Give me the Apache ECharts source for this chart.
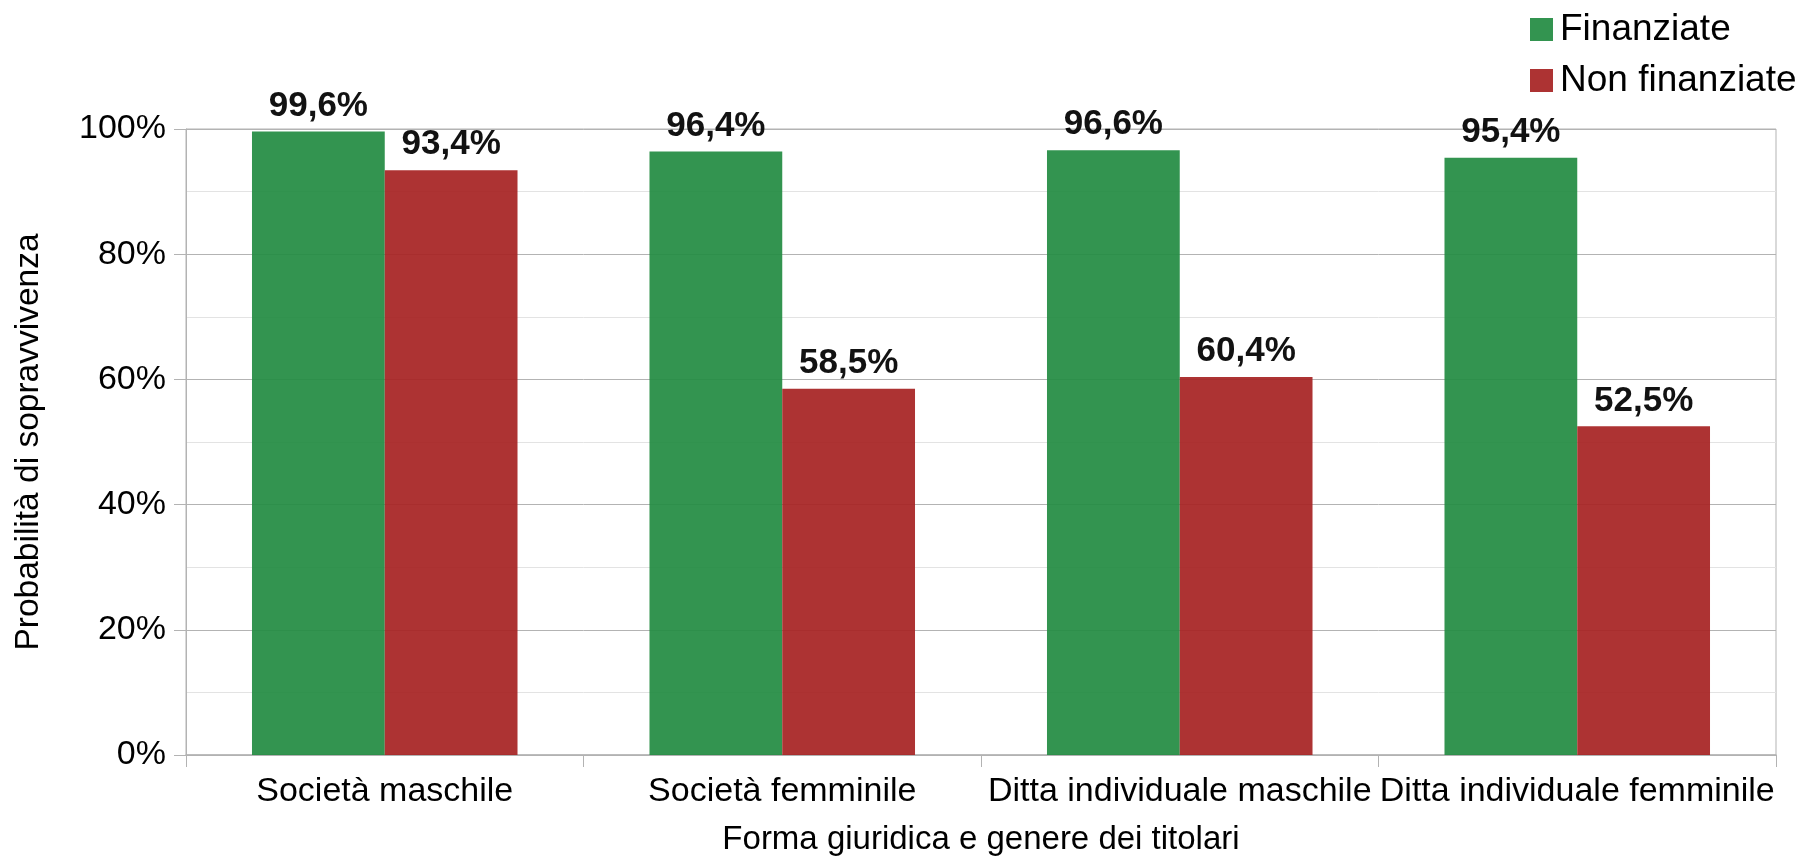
<!DOCTYPE html>
<html>
<head>
<meta charset="utf-8">
<script src="https://cdn.jsdelivr.net/npm/echarts@6/dist/echarts.min.js"></script>
<style>
html,body{margin:0;padding:0;background:#fff;}
#chart{width:1807px;height:861px;}
</style>
</head>
<body>
<div id="chart"></div>
<script>
var categories = ['Società maschile', 'Società femminile', 'Ditta individuale maschile', 'Ditta individuale femminile'];
var seriesNames = ['Finanziate', 'Non finanziate'];
var finanziate = [99.6, 96.4, 96.6, 95.4];
var nonFinanziate = [93.4, 58.5, 60.4, 52.5];
var yTicks = [0, 20, 40, 60, 80, 100];

var FONT = 'Liberation Sans';
var chart = echarts.init(document.getElementById('chart'), null, {renderer: 'canvas'});

function fmt(p) { return p.value.toFixed(1).replace('.', ',') + '%'; }

var labelCfg = {
  show: true, position: 'top', distance: 8, formatter: fmt,
  color: '#000', fontFamily: FONT, fontWeight: 'bold', fontSize: 35
};

chart.setOption({
  animation: false,
  backgroundColor: '#fff',
  textStyle: {fontFamily: FONT},
  legend: {
    orient: 'vertical', left: 1525, top: 6,
    itemWidth: 23, itemHeight: 23, itemGap: 14,
    icon: 'rect',
    textStyle: {fontFamily: FONT, fontSize: 37, color: '#000', padding: [0, 0, 0, 2]},
    data: seriesNames
  },
  grid: {
    left: 186, right: 31, top: 129, bottom: 100,
    show: true, borderColor: '#b3b3b3', borderWidth: 1
  },
  xAxis: {
    type: 'category', data: categories,
    name: 'Forma giuridica e genere dei titolari',
    nameLocation: 'middle', nameGap: 68,
    nameTextStyle: {fontFamily: FONT, fontSize: 33, color: '#000'},
    axisLine: {lineStyle: {color: '#b3b3b3', width: 1.5}},
    axisTick: {show: true, length: 12, lineStyle: {color: '#b3b3b3'}},
    axisLabel: {interval: 0, margin: 20, fontFamily: FONT, fontSize: 34, color: '#000'}
  },
  yAxis: {
    type: 'value', min: yTicks[0], max: yTicks[yTicks.length - 1], interval: 20,
    name: 'Probabilità di sopravvivenza',
    nameLocation: 'middle', nameGap: 140,
    nameTextStyle: {fontFamily: FONT, fontSize: 33.5, color: '#000'},
    axisLine: {show: true, lineStyle: {color: '#b3b3b3'}},
    axisTick: {show: true, length: 12, lineStyle: {color: '#b3b3b3'}},
    axisLabel: {margin: 20, fontFamily: FONT, fontSize: 34, color: '#000', formatter: '{value}%'},
    splitLine: {show: true, lineStyle: {color: '#b3b3b3'}},
    minorTick: {show: false, splitNumber: 2},
    minorSplitLine: {show: true, lineStyle: {color: '#e3e3e3'}}
  },
  series: [
    {
      name: seriesNames[0], type: 'bar', data: finanziate,
      barGap: '0%', barCategoryGap: '33.2%',
      itemStyle: {color: 'rgb(36,140,67)', opacity: 0.93},
      label: labelCfg
    },
    {
      name: seriesNames[1], type: 'bar', data: nonFinanziate,
      barGap: '0%', barCategoryGap: '33.2%',
      itemStyle: {color: 'rgb(167,35,36)', opacity: 0.93},
      label: labelCfg
    }
  ]
});
</script>
</body>
</html>
